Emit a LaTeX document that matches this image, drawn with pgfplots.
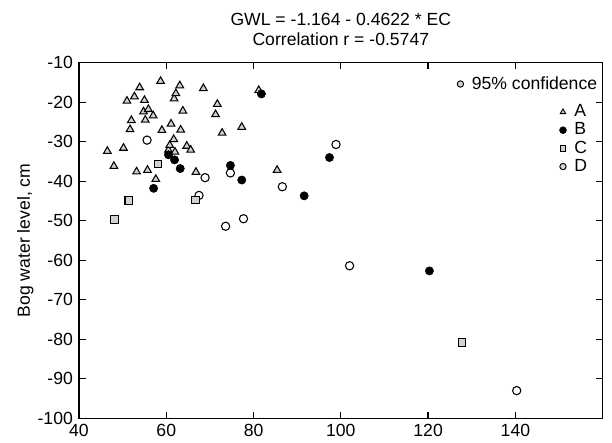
\documentclass[border=0pt]{standalone}
\usepackage{pgfplots}
\pgfplotsset{compat=1.18}
\usepackage{fontspec}
\setmainfont{Liberation Sans}

\definecolor{mkfill}{gray}{0.82}

\pgfplotstableread{
x y
46.5 -32.4
48.0 -36.2
50.2 -31.6
51.0 -19.7
51.7 -26.9
52.0 -24.6
52.7 -18.6
53.2 -37.6
53.9 -16.3
55.0 -19.5
54.8 -22.4
55.2 -24.5
55.9 -21.8
55.7 -37.2
57.0 -23.4
57.6 -39.5
58.7 -14.7
59.0 -27.1
61.1 -25.5
60.5 -32.1
60.8 -30.9
61.7 -29.4
62.0 -32.6
61.8 -19.1
62.2 -17.8
63.1 -15.8
63.3 -27.0
63.8 -22.2
64.7 -31.1
65.6 -32.1
66.8 -37.7
68.5 -16.5
71.7 -20.5
71.3 -23.1
72.8 -27.8
77.3 -26.3
81.2 -17.0
85.4 -37.2
}\siteA

\pgfplotstableread{
x y
60.5 -33.3
61.9 -34.6
63.2 -36.8
57.1 -41.8
74.7 -36.0
77.3 -39.7
81.8 -17.9
97.4 -34.0
91.6 -43.7
120.3 -62.7
}\siteB

\pgfplotstableread{
x y
48.1 -49.7
51.4 -44.9
58.1 -35.6
66.7 -44.7
127.8 -80.8
}\siteC

\pgfplotstableread{
x y
55.6 -29.6
68.9 -39.1
67.5 -43.6
74.7 -37.9
73.6 -51.4
77.7 -49.5
86.6 -41.4
98.9 -30.7
102.0 -61.4
140.3 -93.0
}\siteD

\newcommand{\lbl}{\fontsize{13.2}{15.5}\selectfont}

\pgfplotsset{
  base/.style={
    scale only axis,
    width=392.8pt, height=266.7pt,
    xmin=40, xmax=160, ymin=-100, ymax=-10,
    clip=false,
  },
  legend image code/.code={\draw[#1] plot coordinates {(0.1cm,0cm)}; \path (0.32cm,0cm);},
}

\begin{document}
\lbl
\begin{tikzpicture}
\begin{axis}[
  base,
  axis line style={line width=0.8pt},
  tick style={line width=1pt, black},
  tick align=inside,
  major tick length=5pt,
  xtick={40,60,...,140},
  ytick={-100,-90,...,-10},
  /pgf/number format/assume math mode=true,
  ticklabel style={font=\lbl},
  ylabel={Bog water level, cm},
  ylabel style={font=\lbl, yshift=-6pt},
  title={GWL = -1.164 - 0.4622 * EC\\Correlation r = -0.5747},
  title style={align=center, font=\lbl, yshift=2pt},
  legend style={draw=none, fill=none, at={(0.976,0.89)}, anchor=north east,
    font=\lbl, row sep=-1.5pt, inner sep=0pt,
    legend cell align=left},
]
\addplot[only marks, mark=triangle*, mark size=3.3pt, fill=mkfill, draw=black, line width=0.8pt, forget plot] table {\siteA};
\addplot[only marks, mark=o, mark size=3.1pt, fill=mkfill, draw=black, line width=0.8pt, forget plot] table {\siteD};
\addplot[only marks, mark=square*, mark size=2.8pt, fill=mkfill, draw=black, line width=0.8pt, forget plot] table {\siteC};
\addplot[only marks, mark=*, mark size=3.1pt, fill=black, draw=black, forget plot] table {\siteB};
\addlegendimage{only marks, mark=triangle*, mark size=2.4pt, fill=mkfill, draw=black, line width=0.7pt}
\addlegendentry{A}
\addlegendimage{only marks, mark=*, mark size=2.6pt, fill=black, draw=black}
\addlegendentry{B}
\addlegendimage{only marks, mark=square*, mark size=2.1pt, fill=mkfill, draw=black, line width=0.7pt}
\addlegendentry{C}
\addlegendimage{only marks, mark=*, mark size=2.4pt, fill=mkfill, draw=black, line width=0.7pt}
\addlegendentry{D}
\path (axis description cs:-0.1508,-0.0666) rectangle (axis description cs:1.0178,1.1763);
\end{axis}
\begin{axis}[
  base, hide axis,
  legend style={draw=none, fill=none, at={(0.995,0.97)}, anchor=north east,
    font=\lbl, inner sep=0pt},
]
\addlegendimage{only marks, mark=*, mark size=2.4pt, fill=mkfill, draw=black, line width=0.7pt}
\addlegendentry{95\% confidence}
\end{axis}
\end{tikzpicture}
\end{document}
